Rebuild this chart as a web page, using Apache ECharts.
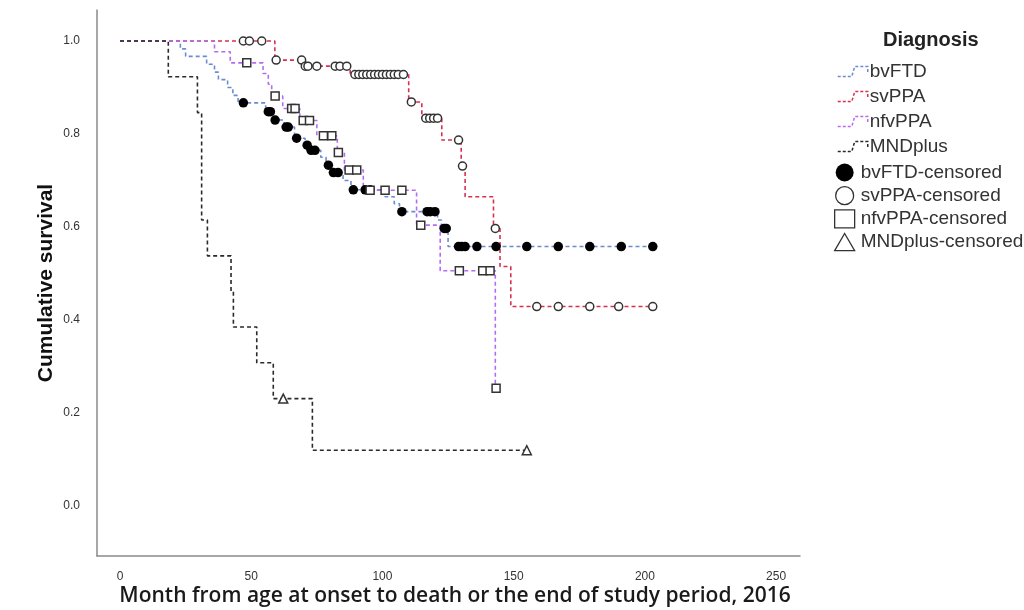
<!DOCTYPE html>
<html>
<head>
<meta charset="utf-8">
<script src="https://cdn.jsdelivr.net/npm/echarts/dist/echarts.min.js"></script>
<style>
html,body{margin:0;padding:0;background:#fff;}
#c{width:1024px;height:610px;}
</style>
</head>
<body>
<div id="c"></div>
<script>
// ---- Data (months, cumulative survival) ----
const xTicks = [0, 50, 100, 150, 200, 250];
const yTicks = [0, 0.2, 0.4, 0.6, 0.8, 1.0];

const bvTimes = [0, 23, 25, 33, 36, 37.5, 41, 43, 45, 55.5, 58.5, 62.5, 66.5, 70.5, 72.3, 76.5, 78.5, 80.5, 85, 88, 101, 104.5, 106.5, 121, 122.5, 125, 203];
const bvSurv  = [1, 0.983, 0.967, 0.95, 0.933, 0.917, 0.9, 0.883, 0.867, 0.848, 0.830, 0.815, 0.791, 0.776, 0.765, 0.75, 0.733, 0.717, 0.70, 0.68, 0.665, 0.65, 0.633, 0.615, 0.597, 0.558, 0.558];
const bvCensT = [47, 56.5, 57.3, 59.1, 63.3, 64.1, 67.3, 71.3, 72.8, 74.3, 79.4, 81.3, 83.1, 88.9, 93.4, 95.3, 107.4, 117, 118.2, 120, 123.5, 124.3, 129, 130.2, 131.5, 136, 143.3, 155, 167, 179, 191, 203];
const bvCensS = [0.867, 0.848, 0.848, 0.830, 0.815, 0.815, 0.791, 0.776, 0.765, 0.765, 0.733, 0.717, 0.717, 0.68, 0.68, 0.68, 0.633, 0.633, 0.633, 0.633, 0.597, 0.597, 0.558, 0.558, 0.558, 0.558, 0.558, 0.558, 0.558, 0.558, 0.558, 0.558];

const svTimes = [0, 59, 69.5, 87.7, 110, 115, 122.6, 130, 131.5, 142.3, 144.8, 148.9, 202.9];
const svSurv  = [1, 0.959, 0.946, 0.928, 0.869, 0.834, 0.787, 0.731, 0.665, 0.597, 0.515, 0.429, 0.429];
const svCensT = [47, 49.3, 54, 59.5, 69.2, 70.6, 71.6, 75, 82, 83.8, 86.4, 89.5, 91, 92.5, 94, 95.5, 97, 98.5, 100, 101.5, 103, 104.5, 106, 108, 111, 116.5, 118, 119.5, 121, 129, 130.5, 143, 158.8, 167, 179, 190, 203];
const svCensS = [1, 1, 1, 0.959, 0.959, 0.946, 0.946, 0.946, 0.946, 0.946, 0.946, 0.928, 0.928, 0.928, 0.928, 0.928, 0.928, 0.928, 0.928, 0.928, 0.928, 0.928, 0.928, 0.928, 0.869, 0.834, 0.834, 0.834, 0.834, 0.787, 0.731, 0.597, 0.429, 0.429, 0.429, 0.429, 0.429];

const nfvTimes = [0, 36, 42, 54.5, 56.5, 57.8, 62, 68.5, 75, 82.8, 85.5, 92.7, 113, 122, 143];
const nfvSurv  = [1, 0.977, 0.953, 0.93, 0.907, 0.882, 0.855, 0.829, 0.796, 0.760, 0.7226, 0.679, 0.604, 0.506, 0.253];
const nfvCensT = [48.3, 59.1, 65.4, 66.7, 69.8, 72.2, 77.5, 80.7, 83.2, 87.3, 90.2, 95.3, 101, 107.4, 114.6, 129.3, 138.2, 141, 143.3];
const nfvCensS = [0.953, 0.882, 0.855, 0.855, 0.829, 0.829, 0.796, 0.796, 0.760, 0.7226, 0.7226, 0.679, 0.679, 0.679, 0.604, 0.506, 0.506, 0.506, 0.253];

const mndTimes = [0, 18.4, 29.5, 31.1, 33.3, 42.3, 43.2, 52.1, 58.4, 73.3, 155];
const mndSurv  = [1, 0.923, 0.846, 0.615, 0.538, 0.462, 0.385, 0.308, 0.231, 0.12, 0.12];
const mndCensT = [62.2, 155];
const mndCensS = [0.231, 0.12];

// ---- Chart ----
function pairs(t, s) { return t.map((x, i) => [x, s[i]]); }
const colBv = '#6b8bd0', colSv = '#d8304f', colNfv = '#b56cf0', colMnd = '#2a2a2a';
const FONT = '"Liberation Sans", Arial, sans-serif';
const stepIcon = 'path://M0,12 L14,12 L17,2 L30,2 L30,9';

function lineSeries(name, t, s, color, z) {
  return {
    name, type: 'line', step: 'end', data: pairs(t, s), symbol: 'none', z,
    lineStyle: { color, width: 1.6, type: [4, 3] }, itemStyle: { color },
    animation: false
  };
}
function lineLegend(name, color) {
  return { name, icon: stepIcon,
    itemStyle: { color: 'rgba(0,0,0,0)', borderColor: color, borderWidth: 1.5, borderType: [3, 2] } };
}

const chart = echarts.init(document.getElementById('c'));
chart.setOption({
  animation: false,
  backgroundColor: '#fff',
  title: {
    text: 'Diagnosis', left: 878, top: 25,
    textStyle: { fontSize: 20, fontWeight: 'bold', color: '#222', fontFamily: FONT }
  },
  grid: { left: 97, right: 224, top: 10, bottom: 54, containLabel: false, outerBoundsMode: 'none' },
  legend: [
    {
      orient: 'vertical', left: 832, top: 57, itemWidth: 30, itemHeight: 11, itemGap: 6,
      textStyle: { fontSize: 19, color: '#333', fontFamily: FONT, padding: [0, 0, 0, -3] },
      data: [lineLegend('bvFTD', colBv), lineLegend('svPPA', colSv), lineLegend('nfvPPA', colNfv), lineLegend('MNDplus', colMnd)]
    },
    {
      orient: 'vertical', left: 829, top: 158, itemWidth: 20, itemHeight: 18, itemGap: 4,
      textStyle: { fontSize: 19, color: '#333', fontFamily: FONT, padding: [0, 0, 0, 1] },
      data: [
        { name: 'bvFTD-censored', icon: 'circle', itemStyle: { color: '#000', borderWidth: 0 } },
        { name: 'svPPA-censored', icon: 'circle', itemStyle: { color: '#fff', borderColor: '#333', borderWidth: 1.3 } },
        { name: 'nfvPPA-censored', icon: 'rect', itemStyle: { color: '#fff', borderColor: '#333', borderWidth: 1.3 } },
        { name: 'MNDplus-censored', icon: 'path://M7,0 L14,12 L0,12 Z', itemStyle: { color: '#fff', borderColor: '#333', borderWidth: 1.3 } }
      ]
    }
  ],
  xAxis: {
    type: 'value', min: -8.77, max: 259.1,
    axisLine: { show: true, onZero: false, lineStyle: { color: '#8a8a8a', width: 1.5 } },
    axisTick: { show: false },
    splitLine: { show: false },
    axisLabel: { customValues: xTicks, fontSize: 12, color: '#333', margin: 15, fontFamily: FONT },
    name: 'Month from age at onset to death or the end of study period, 2016',
    nameLocation: 'middle', nameGap: 30, nameMoveOverlap: false,
    nameTextStyle: { fontSize: 21, fontWeight: 600, color: '#1a1a1a', fontFamily: '"Open Sans", sans-serif', padding: [0, 0, 0, 13] }
  },
  yAxis: {
    type: 'value', min: -0.1075, max: 1.0667,
    axisLine: { show: true, onZero: false, lineStyle: { color: '#8a8a8a', width: 1.5 } },
    axisTick: { show: false },
    splitLine: { show: false },
    axisLabel: { customValues: yTicks, formatter: v => v.toFixed(1), fontSize: 12, color: '#333', margin: 17, fontFamily: FONT },
    name: 'Cumulative survival', nameLocation: 'middle', nameGap: 40, nameMoveOverlap: false,
    nameTextStyle: { fontSize: 21, fontWeight: 'bold', color: '#111', fontFamily: FONT }
  },
  series: [
    lineSeries('bvFTD', bvTimes, bvSurv, colBv, 2),
    lineSeries('svPPA', svTimes, svSurv, colSv, 2),
    lineSeries('nfvPPA', nfvTimes, nfvSurv, colNfv, 2),
    lineSeries('MNDplus', mndTimes, mndSurv, colMnd, 3),
    { name: 'bvFTD-censored', type: 'scatter', data: pairs(bvCensT, bvCensS), symbol: 'circle', symbolSize: 9.5,
      itemStyle: { color: '#000', borderWidth: 0, opacity: 1 }, z: 5 },
    { name: 'svPPA-censored', type: 'scatter', data: pairs(svCensT, svCensS), symbol: 'circle', symbolSize: 8,
      itemStyle: { color: '#fff', borderColor: '#333', borderWidth: 1.5, opacity: 1 }, z: 5 },
    { name: 'nfvPPA-censored', type: 'scatter', data: pairs(nfvCensT, nfvCensS), symbol: 'rect', symbolSize: 8,
      itemStyle: { color: '#fff', borderColor: '#333', borderWidth: 1.5, opacity: 1 }, z: 5 },
    { name: 'MNDplus-censored', type: 'scatter', data: pairs(mndCensT, mndCensS), symbol: 'triangle', symbolSize: 9,
      itemStyle: { color: '#fff', borderColor: '#333', borderWidth: 1.5, opacity: 1 }, z: 5 }
  ]
});
</script>
</body>
</html>
